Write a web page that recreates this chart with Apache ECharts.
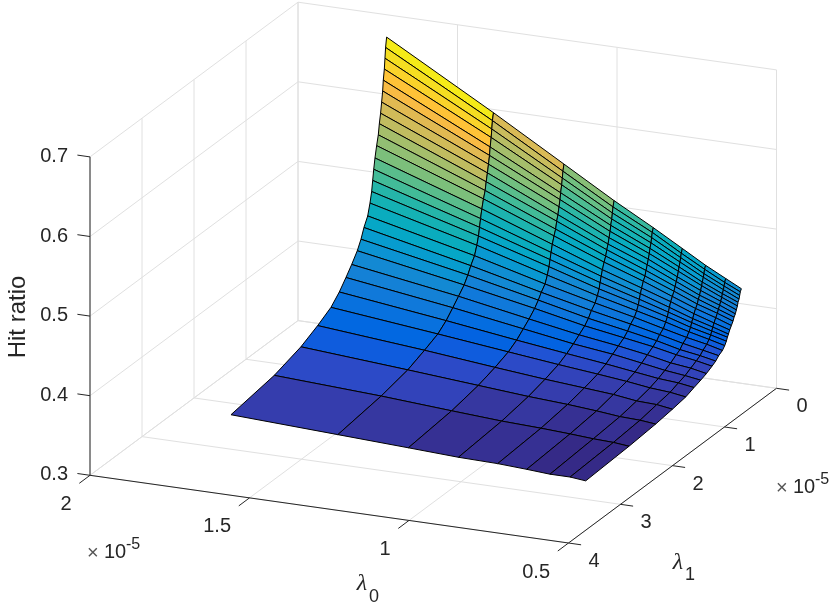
<!DOCTYPE html>
<html>
<head>
<meta charset="utf-8">
<title>Hit ratio surface</title>
<script src="https://cdn.jsdelivr.net/npm/echarts@6/dist/echarts.min.js"></script>
<style>
  html, body { margin: 0; padding: 0; background: #fff; }
  #chart { width: 830px; height: 605px; }
</style>
</head>
<body>
<div id="chart"></div>
<script>
// mesh, in units of 1e-5
const lambda0 = [1.612, 1.277, 1.056, 0.899, 0.776, 0.685, 0.612, 0.549, 0.5];
const lambda1 = [0.676, 0.696, 0.708, 0.72, 0.74, 0.752, 0.772, 0.792, 0.816, 0.836, 0.868, 0.9, 0.924, 0.944,
  0.964, 0.996, 1.04, 1.112, 1.169, 1.24, 1.348, 1.458, 1.586, 1.746, 2.002, 2.324, 2.836, 3.669];

// one row per lambda1, one column per lambda0
const hitRatio = [
  [0.711, 0.635, 0.583, 0.546, 0.519, 0.498, 0.481, 0.468, 0.458],
  [0.699, 0.626, 0.575, 0.539, 0.514, 0.493, 0.477, 0.464, 0.455],
  [0.686, 0.616, 0.567, 0.532, 0.508, 0.488, 0.472, 0.460, 0.451],
  [0.673, 0.606, 0.559, 0.525, 0.502, 0.483, 0.468, 0.456, 0.447],
  [0.660, 0.595, 0.550, 0.518, 0.496, 0.478, 0.463, 0.452, 0.444],
  [0.647, 0.585, 0.542, 0.511, 0.490, 0.473, 0.459, 0.448, 0.440],
  [0.634, 0.575, 0.534, 0.504, 0.484, 0.467, 0.454, 0.444, 0.436],
  [0.621, 0.565, 0.525, 0.497, 0.478, 0.462, 0.449, 0.440, 0.432],
  [0.609, 0.555, 0.518, 0.491, 0.472, 0.457, 0.445, 0.436, 0.429],
  [0.596, 0.545, 0.509, 0.484, 0.466, 0.452, 0.440, 0.432, 0.425],
  [0.584, 0.536, 0.502, 0.478, 0.461, 0.447, 0.436, 0.428, 0.421],
  [0.570, 0.525, 0.493, 0.470, 0.454, 0.442, 0.431, 0.423, 0.417],
  [0.557, 0.514, 0.484, 0.463, 0.448, 0.436, 0.426, 0.419, 0.413],
  [0.544, 0.504, 0.476, 0.456, 0.442, 0.431, 0.422, 0.415, 0.410],
  [0.531, 0.494, 0.468, 0.449, 0.436, 0.426, 0.417, 0.411, 0.406],
  [0.518, 0.484, 0.459, 0.442, 0.430, 0.421, 0.413, 0.407, 0.402],
  [0.504, 0.473, 0.450, 0.435, 0.424, 0.415, 0.408, 0.403, 0.398],
  [0.493, 0.464, 0.443, 0.429, 0.419, 0.411, 0.404, 0.399, 0.395],
  [0.481, 0.455, 0.436, 0.422, 0.413, 0.406, 0.399, 0.395, 0.391],
  [0.470, 0.446, 0.429, 0.416, 0.408, 0.402, 0.396, 0.392, 0.388],
  [0.458, 0.437, 0.421, 0.410, 0.403, 0.397, 0.391, 0.388, 0.384],
  [0.447, 0.428, 0.414, 0.404, 0.398, 0.392, 0.387, 0.384, 0.381],
  [0.435, 0.418, 0.406, 0.398, 0.392, 0.387, 0.383, 0.381, 0.378],
  [0.4235, 0.409, 0.399, 0.392, 0.387, 0.383, 0.379, 0.377, 0.374],
  [0.413, 0.401, 0.392, 0.386, 0.382, 0.379, 0.375, 0.374, 0.371],
  [0.402, 0.392, 0.385, 0.380, 0.377, 0.374, 0.371, 0.370, 0.368],
  [0.391, 0.384, 0.378, 0.374, 0.372, 0.370, 0.368, 0.367, 0.365],
  [0.382, 0.376, 0.372, 0.369, 0.368, 0.366, 0.364, 0.364, 0.362]
];

const lambda0Ticks = [2, 1.5, 1, 0.5];
const lambda0TickLabels = ['2', '1.5', '1', '0.5'];
const lambda1Ticks = [0, 1, 2, 3, 4];
const lambda1TickLabels = ['0', '1', '2', '3', '4'];
const ratioTicks = [0.3, 0.4, 0.5, 0.6, 0.7];
const ratioTickLabels = ['0.3', '0.4', '0.5', '0.6', '0.7'];

// old MATLAB parula
const parula = [
  [0.2081, 0.1663, 0.5292], [0.2116, 0.1898, 0.5777], [0.2123, 0.2138, 0.6270], [0.2081, 0.2386, 0.6771],
  [0.1959, 0.2645, 0.7279], [0.1707, 0.2919, 0.7792], [0.1253, 0.3242, 0.8303], [0.0591, 0.3598, 0.8683],
  [0.0117, 0.3875, 0.8820], [0.0060, 0.4086, 0.8828], [0.0165, 0.4266, 0.8786], [0.0329, 0.4430, 0.8720],
  [0.0498, 0.4586, 0.8641], [0.0629, 0.4737, 0.8554], [0.0723, 0.4887, 0.8467], [0.0779, 0.5040, 0.8384],
  [0.0793, 0.5200, 0.8312], [0.0749, 0.5375, 0.8263], [0.0641, 0.5570, 0.8240], [0.0488, 0.5772, 0.8228],
  [0.0343, 0.5966, 0.8199], [0.0265, 0.6137, 0.8135], [0.0239, 0.6287, 0.8038], [0.0231, 0.6418, 0.7913],
  [0.0228, 0.6535, 0.7768], [0.0267, 0.6642, 0.7607], [0.0384, 0.6743, 0.7436], [0.0590, 0.6838, 0.7254],
  [0.0843, 0.6928, 0.7062], [0.1133, 0.7015, 0.6859], [0.1453, 0.7098, 0.6646], [0.1801, 0.7177, 0.6424],
  [0.2178, 0.7250, 0.6193], [0.2586, 0.7317, 0.5954], [0.3022, 0.7376, 0.5712], [0.3482, 0.7424, 0.5473],
  [0.3953, 0.7459, 0.5244], [0.4420, 0.7481, 0.5033], [0.4871, 0.7491, 0.4840], [0.5300, 0.7491, 0.4661],
  [0.5709, 0.7485, 0.4494], [0.6099, 0.7473, 0.4337], [0.6473, 0.7456, 0.4188], [0.6834, 0.7435, 0.4044],
  [0.7184, 0.7411, 0.3905], [0.7525, 0.7384, 0.3768], [0.7858, 0.7356, 0.3633], [0.8185, 0.7327, 0.3498],
  [0.8507, 0.7299, 0.3360], [0.8824, 0.7274, 0.3217], [0.9139, 0.7258, 0.3063], [0.9450, 0.7261, 0.2886],
  [0.9739, 0.7314, 0.2666], [0.9938, 0.7455, 0.2403], [0.9990, 0.7653, 0.2164], [0.9955, 0.7861, 0.1967],
  [0.9880, 0.8066, 0.1794], [0.9789, 0.8271, 0.1633], [0.9697, 0.8481, 0.1475], [0.9626, 0.8705, 0.1309],
  [0.9589, 0.8949, 0.1132], [0.9598, 0.9218, 0.0948], [0.9661, 0.9514, 0.0755], [0.9763, 0.9831, 0.0538]
];

// orthographic view of the box, fitted to the reference
function project(l0, l1, z) {
  const u = (2 - l0) / 1.5;
  const t = (4 - l1) / 4;
  const h = (z - 0.3) / 0.4;
  return [90 + 478.5 * u + 208 * t, 475.3 + 67.7 * u - 154.7 * t - 318.4 * h];
}

const allRatios = hitRatio.flat();
const ratioMin = Math.min(...allRatios);
const ratioMax = Math.max(...allRatios);

function faceColor(z) {
  const idx = Math.min(63, Math.floor((z - ratioMin) / (ratioMax - ratioMin) * 64));
  const c = parula[idx];
  return 'rgb(' + c.map(v => Math.round(v * 255)).join(',') + ')';
}

const AXIS_COLOR = '#262626';
const GRID_COLOR = '#e0e0e0';
const LABEL_FONT = '20px "Liberation Sans", Arial, sans-serif';

// wall and floor grid segments: [l0, l1, z, l0, l1, z]
const gridSegments = [];
lambda0Ticks.forEach(v => {
  gridSegments.push([v, 0, 0.3, v, 4, 0.3]);
  gridSegments.push([v, 0, 0.3, v, 0, 0.7]);
});
lambda1Ticks.forEach(v => {
  gridSegments.push([0.5, v, 0.3, 2, v, 0.3]);
  gridSegments.push([2, v, 0.3, 2, v, 0.7]);
});
ratioTicks.forEach(v => {
  gridSegments.push([0.5, 0, v, 2, 0, v]);
  gridSegments.push([2, 0, v, 2, 4, v]);
});

const axisSegments = [
  { from: [2, 4, 0.3], to: [2, 4, 0.7] },
  { from: [2, 4, 0.3], to: [0.5, 4, 0.3] },
  { from: [0.5, 4, 0.3], to: [0.5, 0, 0.3] }
];
ratioTicks.forEach(v => axisSegments.push({ from: [2, 4, v], off: [-12.6, -1.8] }));
lambda0Ticks.forEach(v => axisSegments.push({ from: [v, 4, 0.3], off: [-10.7, 8] }));
lambda1Ticks.forEach(v => axisSegments.push({ from: [0.5, v, 0.3], off: [12.6, 1.8] }));

const tickLabels = [];
ratioTicks.forEach((v, i) => tickLabels.push({ at: [2, 4, v], text: ratioTickLabels[i], off: [-22, -0.5], align: 'right' }));
lambda0Ticks.forEach((v, i) => tickLabels.push({ at: [v, 4, 0.3], text: lambda0TickLabels[i], off: [-18.5, 29], align: 'right' }));
lambda1Ticks.forEach((v, i) => tickLabels.push({ at: [0.5, v, 0.3], text: lambda1TickLabels[i], off: [25.5, 18.5], align: 'center' }));

const cells = [];
for (let r = 0; r < lambda1.length - 1; r++) {
  for (let c = 0; c < lambda0.length - 1; c++) cells.push([r, c]);
}

function renderGrid(params, api) {
  const s = gridSegments[params.dataIndex];
  const a = api.coord(project(s[0], s[1], s[2]));
  const b = api.coord(project(s[3], s[4], s[5]));
  return { type: 'line', shape: { x1: a[0], y1: a[1], x2: b[0], y2: b[1] }, style: { stroke: GRID_COLOR, lineWidth: 1 } };
}

function renderCell(params, api) {
  const [r, c] = cells[params.dataIndex];
  const corner = (i, j) => api.coord(project(lambda0[j], lambda1[i], hitRatio[i][j]));
  return {
    type: 'polygon',
    shape: { points: [corner(r, c), corner(r, c + 1), corner(r + 1, c + 1), corner(r + 1, c)] },
    style: { fill: faceColor(hitRatio[r + 1][c]), stroke: '#000', lineWidth: 1, lineJoin: 'round' }
  };
}

function renderAxis(params, api) {
  const s = axisSegments[params.dataIndex];
  const a = api.coord(project(...s.from));
  const b = s.to ? api.coord(project(...s.to)) : [a[0] + s.off[0], a[1] + s.off[1]];
  return { type: 'line', shape: { x1: a[0], y1: a[1], x2: b[0], y2: b[1] }, style: { stroke: AXIS_COLOR, lineWidth: 1 } };
}

function renderLabel(params, api) {
  const l = tickLabels[params.dataIndex];
  const p = api.coord(project(...l.at));
  return {
    type: 'text',
    x: p[0] + l.off[0],
    y: p[1] + l.off[1],
    style: { text: l.text, font: LABEL_FONT, fill: AXIS_COLOR, align: l.align, verticalAlign: 'middle' }
  };
}

function customSeries(items, renderItem) {
  return {
    type: 'custom',
    coordinateSystem: 'cartesian2d',
    silent: true,
    clip: false,
    data: items.map((_, i) => [i, i]),
    encode: { x: 0, y: 1 },
    renderItem
  };
}

function text(x, y, str, font, extra) {
  return {
    type: 'text', x, y, silent: true,
    style: Object.assign({ text: str, font, fill: AXIS_COLOR, align: 'left', verticalAlign: 'middle' }, extra)
  };
}

const SANS = '"Liberation Sans", Arial, sans-serif';
const chart = echarts.init(document.getElementById('chart'));
chart.setOption({
  animation: false,
  backgroundColor: '#fff',
  grid: { left: 0, right: 0, top: 0, bottom: 0 },
  xAxis: { type: 'value', min: 0, max: 830, show: false },
  yAxis: { type: 'value', min: 0, max: 605, inverse: true, show: false },
  series: [
    customSeries(gridSegments, renderGrid),
    customSeries(cells, renderCell),
    customSeries(axisSegments, renderAxis),
    customSeries(tickLabels, renderLabel)
  ],
  graphic: [
    Object.assign(text(18, 317, 'Hit ratio', '24px ' + SANS, { align: 'center' }), { rotation: Math.PI / 2 }),
    text(87, 553, '×', '20px ' + SANS, { fill: '#555' }),
    text(104, 552, '10', '20px ' + SANS),
    text(126, 545, '-5', '16px ' + SANS),
    text(776, 488, '×', '20px ' + SANS, { fill: '#555' }),
    text(793, 487, '10', '20px ' + SANS),
    text(815, 480, '-5', '16px ' + SANS),
    text(362, 584, 'λ', 'italic 24px "Liberation Serif", serif', { align: 'center' }),
    text(374, 597, '0', '18px ' + SANS, { align: 'center' }),
    text(678, 563, 'λ', 'italic 24px "Liberation Serif", serif', { align: 'center' }),
    text(690, 575, '1', '18px ' + SANS, { align: 'center' })
  ]
});
</script>
</body>
</html>
